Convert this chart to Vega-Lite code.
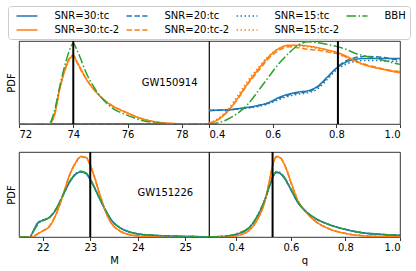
{
"$schema": "https://vega.github.io/schema/vega-lite/v6.json",
"config": {
 "font": "DejaVu Sans",
 "view": {"stroke": "black", "strokeWidth": 0.8},
 "axis": {"grid": false, "domain": false, "tickColor": "black", "tickSize": 3.5, "tickWidth": 0.8, "labelFontSize": 10, "labelColor": "black", "labelPadding": 2, "titleFontSize": 10, "titleFontWeight": "normal", "titleColor": "black", "labelFont": "DejaVu Sans", "titleFont": "DejaVu Sans"},
 "legend": {"orient": "none", "legendX": -11, "legendY": -35, "direction": "horizontal", "columns": 4, "symbolType": "M-2,0H2", "symbolSize": 110, "symbolStrokeWidth": 1.5, "symbolFillColor": "transparent", "symbolOffset": 9, "labelFontSize": 10, "labelFont": "DejaVu Sans", "labelColor": "black", "labelOffset": 21.5, "columnPadding": 2, "rowPadding": 3, "padding": 4, "strokeColor": "#cccccc", "fillColor": "white", "cornerRadius": 3, "title": null}
},
"datasets": {
 "tl": [
  {"x":72,"s30":0,"s20":0,"s15":0,"s30b":0,"s20b":0,"s15b":0,"bbh":0},
  {"x":73.1,"s30":0,"s20":0,"s15":0,"s30b":0,"s20b":0,"s15b":0,"bbh":0},
  {"x":73.3,"s30":0,"s20":0,"s15":0,"s30b":0.10,"s20b":0.11,"s15b":0.10,"bbh":0.15},
  {"x":73.5,"s30":0,"s20":0,"s15":0,"s30b":0.42,"s20b":0.43,"s15b":0.41,"bbh":0.45},
  {"x":73.7,"s30":0,"s20":0,"s15":0,"s30b":0.66,"s20b":0.67,"s15b":0.65,"bbh":0.72},
  {"x":73.85,"s30":0,"s20":0,"s15":0,"s30b":0.78,"s20b":0.79,"s15b":0.77,"bbh":0.88},
  {"x":74.0,"s30":0,"s20":0,"s15":0,"s30b":0.82,"s20b":0.83,"s15b":0.81,"bbh":0.97},
  {"x":74.15,"s30":0,"s20":0,"s15":0,"s30b":0.74,"s20b":0.73,"s15b":0.74,"bbh":0.88},
  {"x":74.5,"s30":0,"s20":0,"s15":0,"s30b":0.53,"s20b":0.53,"s15b":0.54,"bbh":0.60},
  {"x":74.85,"s30":0,"s20":0,"s15":0,"s30b":0.38,"s20b":0.38,"s15b":0.385,"bbh":0.40},
  {"x":75.33,"s30":0,"s20":0,"s15":0,"s30b":0.24,"s20b":0.245,"s15b":0.24,"bbh":0.22},
  {"x":75.95,"s30":0,"s20":0,"s15":0,"s30b":0.14,"s20b":0.14,"s15b":0.135,"bbh":0.11},
  {"x":76.57,"s30":0,"s20":0,"s15":0,"s30b":0.06,"s20b":0.058,"s15b":0.06,"bbh":0.04},
  {"x":77.2,"s30":0,"s20":0,"s15":0,"s30b":0.018,"s20b":0.017,"s15b":0.019,"bbh":0.01},
  {"x":77.8,"s30":0,"s20":0,"s15":0,"s30b":0.004,"s20b":0.004,"s15b":0.005,"bbh":0.002},
  {"x":79,"s30":0,"s20":0,"s15":0,"s30b":0,"s20b":0,"s15b":0,"bbh":0}
 ],
 "tr": [
  {"x":0.4,"s30":0.165,"s20":0.16,"s15":0.17,"s30b":0.005,"s20b":0.01,"s15b":0.01,"bbh":0.0},
  {"x":0.43,"s30":0.167,"s20":0.165,"s15":0.17,"s30b":0.056,"s20b":0.06,"s15b":0.07,"bbh":0.015},
  {"x":0.46,"s30":0.17,"s20":0.17,"s15":0.172,"s30b":0.155,"s20b":0.16,"s15b":0.18,"bbh":0.06},
  {"x":0.49,"s30":0.184,"s20":0.18,"s15":0.18,"s30b":0.31,"s20b":0.30,"s15b":0.34,"bbh":0.13},
  {"x":0.52,"s30":0.20,"s20":0.195,"s15":0.19,"s30b":0.48,"s20b":0.47,"s15b":0.51,"bbh":0.23},
  {"x":0.555,"s30":0.225,"s20":0.22,"s15":0.21,"s30b":0.66,"s20b":0.64,"s15b":0.68,"bbh":0.40},
  {"x":0.585,"s30":0.255,"s20":0.25,"s15":0.24,"s30b":0.80,"s20b":0.78,"s15b":0.81,"bbh":0.555},
  {"x":0.62,"s30":0.32,"s20":0.31,"s15":0.295,"s30b":0.91,"s20b":0.89,"s15b":0.91,"bbh":0.73},
  {"x":0.65,"s30":0.36,"s20":0.35,"s15":0.335,"s30b":0.95,"s20b":0.93,"s15b":0.94,"bbh":0.85},
  {"x":0.68,"s30":0.385,"s20":0.375,"s15":0.36,"s30b":0.95,"s20b":0.92,"s15b":0.94,"bbh":0.95},
  {"x":0.71,"s30":0.40,"s20":0.39,"s15":0.375,"s30b":0.94,"s20b":0.90,"s15b":0.93,"bbh":0.99},
  {"x":0.74,"s30":0.45,"s20":0.44,"s15":0.42,"s30b":0.92,"s20b":0.89,"s15b":0.91,"bbh":0.98},
  {"x":0.77,"s30":0.56,"s20":0.55,"s15":0.53,"s30b":0.895,"s20b":0.87,"s15b":0.88,"bbh":0.96},
  {"x":0.8,"s30":0.67,"s20":0.675,"s15":0.65,"s30b":0.865,"s20b":0.85,"s15b":0.85,"bbh":0.935},
  {"x":0.83,"s30":0.745,"s20":0.76,"s15":0.72,"s30b":0.82,"s20b":0.81,"s15b":0.80,"bbh":0.90},
  {"x":0.86,"s30":0.78,"s20":0.80,"s15":0.755,"s30b":0.76,"s20b":0.76,"s15b":0.75,"bbh":0.85},
  {"x":0.89,"s30":0.79,"s20":0.815,"s15":0.765,"s30b":0.71,"s20b":0.72,"s15b":0.71,"bbh":0.82},
  {"x":0.92,"s30":0.79,"s20":0.81,"s15":0.765,"s30b":0.68,"s20b":0.69,"s15b":0.68,"bbh":0.795},
  {"x":0.95,"s30":0.79,"s20":0.80,"s15":0.76,"s30b":0.655,"s20b":0.66,"s15b":0.66,"bbh":0.765},
  {"x":0.98,"s30":0.79,"s20":0.78,"s15":0.755,"s30b":0.63,"s20b":0.64,"s15b":0.64,"bbh":0.735},
  {"x":1.0,"s30":0.79,"s20":0.77,"s15":0.75,"s30b":0.62,"s20b":0.63,"s15b":0.63,"bbh":0.72}
 ],
 "bl": [
  {"x":21.5,"s30":0,"s20":0,"s15":0,"s30b":0,"s20b":0,"s15b":0,"bbh":0},
  {"x":21.73,"s30":0,"s20":0,"s15":0,"s30b":0,"s20b":0,"s15b":0,"bbh":0},
  {"x":21.8,"s30":0.07,"s20":0.065,"s15":0.07,"s30b":0.005,"s20b":0.006,"s15b":0.005,"bbh":0.06},
  {"x":21.9,"s30":0.17,"s20":0.165,"s15":0.168,"s30b":0.04,"s20b":0.042,"s15b":0.04,"bbh":0.15},
  {"x":22.0,"s30":0.196,"s20":0.195,"s15":0.198,"s30b":0.07,"s20b":0.072,"s15b":0.07,"bbh":0.19},
  {"x":22.15,"s30":0.235,"s20":0.235,"s15":0.238,"s30b":0.13,"s20b":0.135,"s15b":0.13,"bbh":0.235},
  {"x":22.28,"s30":0.325,"s20":0.33,"s15":0.328,"s30b":0.267,"s20b":0.27,"s15b":0.265,"bbh":0.33},
  {"x":22.42,"s30":0.48,"s20":0.485,"s15":0.482,"s30b":0.48,"s20b":0.485,"s15b":0.478,"bbh":0.49},
  {"x":22.56,"s30":0.64,"s20":0.645,"s15":0.64,"s30b":0.72,"s20b":0.725,"s15b":0.715,"bbh":0.65},
  {"x":22.7,"s30":0.74,"s20":0.745,"s15":0.742,"s30b":0.88,"s20b":0.885,"s15b":0.875,"bbh":0.75},
  {"x":22.8,"s30":0.765,"s20":0.77,"s15":0.768,"s30b":0.945,"s20b":0.95,"s15b":0.94,"bbh":0.775},
  {"x":22.91,"s30":0.745,"s20":0.75,"s15":0.747,"s30b":0.935,"s20b":0.93,"s15b":0.935,"bbh":0.755},
  {"x":23.05,"s30":0.62,"s20":0.625,"s15":0.622,"s30b":0.77,"s20b":0.765,"s15b":0.775,"bbh":0.63},
  {"x":23.19,"s30":0.46,"s20":0.46,"s15":0.462,"s30b":0.52,"s20b":0.515,"s15b":0.525,"bbh":0.465},
  {"x":23.33,"s30":0.306,"s20":0.305,"s15":0.307,"s30b":0.29,"s20b":0.285,"s15b":0.295,"bbh":0.31},
  {"x":23.46,"s30":0.188,"s20":0.188,"s15":0.19,"s30b":0.15,"s20b":0.148,"s15b":0.153,"bbh":0.19},
  {"x":23.6,"s30":0.118,"s20":0.118,"s15":0.12,"s30b":0.08,"s20b":0.079,"s15b":0.082,"bbh":0.12},
  {"x":23.81,"s30":0.062,"s20":0.062,"s15":0.063,"s30b":0.03,"s20b":0.03,"s15b":0.031,"bbh":0.063},
  {"x":24.02,"s30":0.035,"s20":0.035,"s15":0.036,"s30b":0.012,"s20b":0.012,"s15b":0.013,"bbh":0.036},
  {"x":24.44,"s30":0.016,"s20":0.016,"s15":0.017,"s30b":0.002,"s20b":0.002,"s15b":0.002,"bbh":0.018},
  {"x":24.85,"s30":0.008,"s20":0.008,"s15":0.008,"s30b":0,"s20b":0,"s15b":0,"bbh":0.009},
  {"x":25.5,"s30":0.003,"s20":0.003,"s15":0.003,"s30b":0,"s20b":0,"s15b":0,"bbh":0.004}
 ],
 "br": [
  {"x":0.3,"s30":0.002,"s20":0.002,"s15":0.002,"s30b":0,"s20b":0,"s15b":0,"bbh":0.002},
  {"x":0.359,"s30":0.008,"s20":0.008,"s15":0.009,"s30b":0,"s20b":0,"s15b":0,"bbh":0.01},
  {"x":0.407,"s30":0.04,"s20":0.04,"s15":0.042,"s30b":0.02,"s20b":0.021,"s15b":0.02,"bbh":0.045},
  {"x":0.444,"s30":0.10,"s20":0.10,"s15":0.102,"s30b":0.07,"s20b":0.072,"s15b":0.07,"bbh":0.105},
  {"x":0.481,"s30":0.267,"s20":0.267,"s15":0.27,"s30b":0.227,"s20b":0.23,"s15b":0.225,"bbh":0.27},
  {"x":0.505,"s30":0.44,"s20":0.44,"s15":0.442,"s30b":0.42,"s20b":0.425,"s15b":0.418,"bbh":0.445},
  {"x":0.524,"s30":0.62,"s20":0.62,"s15":0.622,"s30b":0.70,"s20b":0.705,"s15b":0.695,"bbh":0.625},
  {"x":0.536,"s30":0.72,"s20":0.72,"s15":0.722,"s30b":0.875,"s20b":0.88,"s15b":0.87,"bbh":0.725},
  {"x":0.548,"s30":0.76,"s20":0.762,"s15":0.76,"s30b":0.945,"s20b":0.95,"s15b":0.94,"bbh":0.77},
  {"x":0.56,"s30":0.75,"s20":0.752,"s15":0.75,"s30b":0.935,"s20b":0.94,"s15b":0.93,"bbh":0.76},
  {"x":0.579,"s30":0.68,"s20":0.68,"s15":0.682,"s30b":0.835,"s20b":0.83,"s15b":0.84,"bbh":0.69},
  {"x":0.603,"s30":0.54,"s20":0.54,"s15":0.542,"s30b":0.62,"s20b":0.615,"s15b":0.625,"bbh":0.55},
  {"x":0.627,"s30":0.40,"s20":0.40,"s15":0.402,"s30b":0.42,"s20b":0.418,"s15b":0.425,"bbh":0.405},
  {"x":0.652,"s30":0.31,"s20":0.31,"s15":0.312,"s30b":0.306,"s20b":0.305,"s15b":0.31,"bbh":0.31},
  {"x":0.689,"s30":0.22,"s20":0.22,"s15":0.222,"s30b":0.188,"s20b":0.187,"s15b":0.19,"bbh":0.22},
  {"x":0.737,"s30":0.15,"s20":0.15,"s15":0.151,"s30b":0.10,"s20b":0.10,"s15b":0.102,"bbh":0.15},
  {"x":0.798,"s30":0.09,"s20":0.09,"s15":0.091,"s30b":0.043,"s20b":0.043,"s15b":0.044,"bbh":0.09},
  {"x":0.86,"s30":0.05,"s20":0.05,"s15":0.051,"s30b":0.016,"s20b":0.016,"s15b":0.017,"bbh":0.052},
  {"x":0.93,"s30":0.03,"s20":0.03,"s15":0.031,"s30b":0.006,"s20b":0.006,"s15b":0.006,"bbh":0.032},
  {"x":1.0,"s30":0.02,"s20":0.02,"s15":0.02,"s30b":0.003,"s20b":0.003,"s15b":0.003,"bbh":0.02}
 ]
},
"columns": 2,
"spacing": {"row": 28, "column": 0},
"bounds": "flush",
"concat": [
  {"width": 190, "height": 83, "layer": [
   {"data": {"name": "tl"}, "transform": [{"fold": ["s30","s30b","s20","s20b","s15","s15b","bbh"], "as": ["s","v"]}],
    "mark": {"type": "line", "interpolate": "monotone", "strokeWidth": 1.5, "clip": true},
    "encoding": {
     "x": {"field": "x", "type": "quantitative", "scale": {"domain": [72, 79], "nice": false, "zero": false}, "axis": {"values": [72,74,76,78], "title": null}},
     "y": {"field": "v", "type": "quantitative", "scale": {"domain": [0, 1], "nice": false}, "axis": {"title": "PDF", "labels": false, "ticks": false, "titlePadding": 3}},
     "color": {"field": "s", "type": "nominal", "scale": {"domain": ["s30","s20","s15","bbh","s30b","s20b","s15b"], "range": ["#1f77b4","#1f77b4","#1f77b4","#2ca02c","#ff7f0e","#ff7f0e","#ff7f0e"]}, "legend": {"labelExpr": "{'s30':'SNR=30:tc','s20':'SNR=20:tc','s15':'SNR=15:tc','bbh':'BBH','s30b':'SNR=30:tc-2','s20b':'SNR=20:tc-2','s15b':'SNR=15:tc-2'}[datum.label]"}},
     "strokeDash": {"field": "s", "type": "nominal", "scale": {"domain": ["s30","s20","s15","bbh","s30b","s20b","s15b"], "range": [[1,0],[5.5,2.4],[1.5,2.5],[9.6,2.4,1.5,2.4],[1,0],[5.5,2.4],[1.5,2.5]]}, "legend": {"labelExpr": "{'s30':'SNR=30:tc','s20':'SNR=20:tc','s15':'SNR=15:tc','bbh':'BBH','s30b':'SNR=30:tc-2','s20b':'SNR=20:tc-2','s15b':'SNR=15:tc-2'}[datum.label]"}}
    }},
   {"data": {"values": [{"x": 74}]}, "mark": {"type": "rule", "color": "black", "strokeWidth": 2}, "encoding": {"x": {"field": "x", "type": "quantitative"}}},
   {"data": {"values": [{"x": 77.55, "y": 0.5, "t": "GW150914"}]}, "mark": {"type": "text", "fontSize": 10, "color": "black"}, "encoding": {"x": {"field": "x", "type": "quantitative"}, "y": {"field": "y", "type": "quantitative"}, "text": {"field": "t"}}}
  ]},
  {"width": 191, "height": 83, "layer": [
   {"data": {"name": "tr"}, "transform": [{"fold": ["s30","s30b","s20","s20b","s15","s15b","bbh"], "as": ["s","v"]}],
    "mark": {"type": "line", "interpolate": "monotone", "strokeWidth": 1.5, "clip": true},
    "encoding": {
     "x": {"field": "x", "type": "quantitative", "scale": {"domain": [0.4, 1.0], "nice": false, "zero": false}, "axis": {"values": [0.4,0.6,0.8,1.0], "format": ".1f", "title": null}},
     "y": {"field": "v", "type": "quantitative", "scale": {"domain": [0, 1], "nice": false}, "axis": null},
     "color": {"field": "s", "type": "nominal"},
     "strokeDash": {"field": "s", "type": "nominal"}
    }},
   {"data": {"values": [{"x": 0.805}]}, "mark": {"type": "rule", "color": "black", "strokeWidth": 2}, "encoding": {"x": {"field": "x", "type": "quantitative"}}}
  ]},
  {"width": 190, "height": 85, "layer": [
   {"data": {"name": "bl"}, "transform": [{"fold": ["s30","s30b","s20","s20b","s15","s15b","bbh"], "as": ["s","v"]}],
    "mark": {"type": "line", "interpolate": "monotone", "strokeWidth": 1.5, "clip": true},
    "encoding": {
     "x": {"field": "x", "type": "quantitative", "scale": {"domain": [21.5, 25.5], "nice": false, "zero": false}, "axis": {"values": [22,23,24,25], "title": "M", "titlePadding": 3}},
     "y": {"field": "v", "type": "quantitative", "scale": {"domain": [0, 1], "nice": false}, "axis": {"title": "PDF", "labels": false, "ticks": false, "titlePadding": 3}},
     "color": {"field": "s", "type": "nominal"},
     "strokeDash": {"field": "s", "type": "nominal"}
    }},
   {"data": {"values": [{"x": 23}]}, "mark": {"type": "rule", "color": "black", "strokeWidth": 2}, "encoding": {"x": {"field": "x", "type": "quantitative"}}},
   {"data": {"values": [{"x": 24.58, "y": 0.52, "t": "GW151226"}]}, "mark": {"type": "text", "fontSize": 10, "color": "black"}, "encoding": {"x": {"field": "x", "type": "quantitative"}, "y": {"field": "y", "type": "quantitative"}, "text": {"field": "t"}}}
  ]},
  {"width": 191, "height": 85, "layer": [
   {"data": {"name": "br"}, "transform": [{"fold": ["s30","s30b","s20","s20b","s15","s15b","bbh"], "as": ["s","v"]}],
    "mark": {"type": "line", "interpolate": "monotone", "strokeWidth": 1.5, "clip": true},
    "encoding": {
     "x": {"field": "x", "type": "quantitative", "scale": {"domain": [0.3, 1.0], "nice": false, "zero": false}, "axis": {"values": [0.4,0.6,0.8,1.0], "format": ".1f", "title": "q", "titlePadding": 3}},
     "y": {"field": "v", "type": "quantitative", "scale": {"domain": [0, 1], "nice": false}, "axis": null},
     "color": {"field": "s", "type": "nominal"},
     "strokeDash": {"field": "s", "type": "nominal"}
    }},
   {"data": {"values": [{"x": 0.533}]}, "mark": {"type": "rule", "color": "black", "strokeWidth": 2}, "encoding": {"x": {"field": "x", "type": "quantitative"}}}
  ]}
]
}
